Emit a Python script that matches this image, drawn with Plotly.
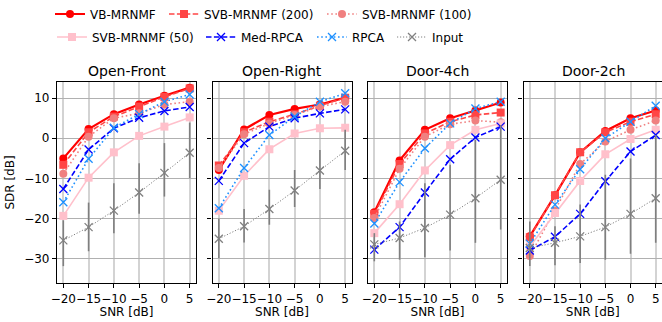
import plotly.graph_objects as go

snr = [-20, -15, -10, -5, 0, 5]
panels = ["Open-Front", "Open-Right", "Door-4ch", "Door-2ch"]
methods = ["VB-MRNMF", "SVB-MRNMF (200)", "SVB-MRNMF (100)", "SVB-MRNMF (50)",
           "Med-RPCA", "RPCA", "Input"]

# SDR values [dB] per panel, per method
vb = [[-5.0, 2.3, 6.0, 8.4, 10.6, 12.6],
      [-7.9, 2.2, 5.8, 7.3, 8.4, 10.1],
      [-18.4, -5.5, 2.1, 5.0, 6.9, 8.9],
      [-24.4, -14.2, -3.5, 1.8, 5.0, 6.9]]
svb200 = [[-6.6, 1.5, 5.4, 7.9, 10.3, 12.4],
          [-6.8, 1.5, 4.1, 6.0, 8.1, 10.1],
          [-18.8, -6.4, 1.2, 4.1, 5.8, 6.4],
          [-24.6, -14.2, -3.5, 1.5, 4.1, 6.0]]
svb100 = [[-8.8, 0.4, 5.0, 6.2, 8.4, 9.1],
          [-7.4, 1.0, 3.7, 5.8, 7.9, 9.1],
          [-19.8, -7.6, 0.4, 3.5, 4.4, 4.0],
          [-29.3, -18.0, -6.4, -0.8, 2.1, 4.4]]
svb50 = [[-19.3, -9.8, -3.5, 0.6, 2.9, 5.2],
         [-18.0, -9.3, -2.7, 1.2, 2.5, 2.6],
         [-23.6, -16.4, -8.0, -1.7, 2.1, 3.7],
         [-26.9, -18.6, -10.6, -4.0, -0.2, 2.1]]
medrpca = [[-12.6, -2.8, 2.5, 5.1, 6.8, 7.8],
           [-10.6, -1.2, 2.9, 5.0, 6.2, 7.2],
           [-27.7, -22.1, -13.5, -5.2, 0.2, 2.9],
           [-27.9, -24.5, -18.8, -10.7, -3.3, 0.8]]
rpca = [[-15.9, -5.1, 2.6, 6.0, 9.1, 10.9],
        [-17.4, -7.4, 0.8, 5.4, 9.1, 11.2],
        [-21.2, -10.9, -2.5, 3.7, 7.4, 9.1],
        [-26.2, -16.5, -7.7, 0.0, 4.1, 8.1]]
inp = [[-25.4, -22.1, -18.0, -13.5, -8.6, -3.6],
       [-25.0, -21.9, -17.6, -13.0, -8.0, -3.1],
       [-26.4, -24.8, -22.3, -19.0, -14.9, -10.3],
       [-27.3, -26.0, -24.4, -22.1, -18.8, -14.9]]
inp_hi = [[-20.4, -16.0, -11.2, -6.2, -1.2, 3.9],
          [-20.0, -17.6, -12.8, -7.9, -2.9, 2.1],
          [-23.6, -20.7, -11.2, -6.6, -0.4, 3.3],
          [-20.7, -21.9, -16.5, -9.1, -5.0, 0.8]]
inp_lo = [[-31.8, -28.1, -23.6, -18.8, -14.5, -9.9],
          [-29.8, -25.9, -21.5, -17.1, -12.6, -7.9],
          [-30.6, -30.2, -29.6, -27.9, -26.0, -22.7],
          [-31.8, -31.6, -31.0, -30.2, -28.7, -26.0]]

series = [vb, svb200, svb100, svb50, medrpca, rpca, inp]

styles = [
    dict(color="#ff0000", width=2.2, dash="solid", symbol="circle"),
    dict(color="#ff4545", width=1.6, dash="5.5px,2.4px", symbol="square"),
    dict(color="#f08080", width=1.6, dash="1.6px,2.6px", symbol="circle"),
    dict(color="#ffc0cb", width=1.6, dash="solid", symbol="square"),
    dict(color="#0000ff", width=1.6, dash="5.5px,2.4px", symbol="x-thin-open"),
    dict(color="#1e90ff", width=1.6, dash="1.6px,2.6px", symbol="x-thin-open"),
    dict(color="#808080", width=1.0, dash="1.2px,1.8px", symbol="x-thin-open"),
]
# legend text left edge (px) and row centre (px)
leg_text_x = [90, 204, 362, 92, 241, 352, 432]
leg_row_y = [14, 14, 14, 37, 37, 37, 37]
leg_names = ["legend", "legend2", "legend3", "legend4", "legend5", "legend6", "legend7"]

W, H = 662, 322
ml, mr, mt, mb = 57, 0, 82, 39
pw = W - ml - mr
step, width = 155.5, 139.0

fig = go.Figure()
font = "DejaVu Sans"

for p in range(4):
    xa = "x" if p == 0 else f"x{p+1}"
    ya = "y" if p == 0 else f"y{p+1}"
    for m, (name, st) in enumerate(zip(methods, styles)):
        kw = {}
        if m == 6:
            hi = [h - c for h, c in zip(inp_hi[p], inp[p])]
            lo = [c - l for c, l in zip(inp[p], inp_lo[p])]
            kw["error_y"] = dict(type="data", symmetric=False, array=hi, arrayminus=lo,
                                 color="#7f7f7f", thickness=1.6, width=0)
        xsym = "x" in st["symbol"]
        marker = dict(symbol=st["symbol"], size=8, color=st["color"],
                      line=dict(color=st["color"], width=1.3 if xsym else 0))
        fig.add_trace(go.Scatter(
            x=snr, y=series[m][p], name=name, mode="lines+markers",
            line=dict(color=st["color"], width=st["width"], dash=st["dash"]),
            marker=marker, xaxis=xa, yaxis=ya, legend=leg_names[m],
            legendgroup=name, showlegend=(p == 0), **kw))

layout = dict(
    width=W, height=H, margin=dict(l=ml, r=mr, t=mt, b=mb, autoexpand=False),
    plot_bgcolor="white", paper_bgcolor="white",
    font=dict(family=font, size=12, color="black"),
    showlegend=True,
)
for p in range(4):
    x0 = step * p / pw
    x1 = (step * p + width) / pw
    xk = "xaxis" if p == 0 else f"xaxis{p+1}"
    yk = "yaxis" if p == 0 else f"yaxis{p+1}"
    layout[xk] = dict(
        domain=[x0, min(x1, 1.0)], range=[-21.25, 6.25],
        tickvals=snr, ticks="outside", ticklen=4, tickcolor="black", tickangle=0,
        showline=True, linecolor="black", linewidth=1.2, mirror=True,
        showgrid=True, gridcolor="#d3d3d3", gridwidth=2, zeroline=False,
        anchor="y" if p == 0 else f"y{p+1}", automargin=False,
        title=dict(text="SNR [dB]", standoff=2, font=dict(size=12)),
        tickfont=dict(size=12),
    )
    layout[yk] = dict(
        domain=[0, 1], range=[-36, 14], tickvals=[-30, -20, -10, 0, 10],
        ticks="outside", ticklen=4, tickcolor="black",
        showline=True, linecolor="black", linewidth=1.2, mirror=True,
        showgrid=True, gridcolor="#b0b0b0", gridwidth=1, zeroline=False,
        showticklabels=(p == 0), automargin=False,
        anchor="x" if p == 0 else f"x{p+1}",
        tickfont=dict(size=12),
    )
    if p == 0:
        layout[yk]["title"] = dict(text="SDR [dB]", standoff=6, font=dict(size=12))
    else:
        layout[yk]["matches"] = "y"

for ln, tx, ty in zip(leg_names, leg_text_x, leg_row_y):
    layout[ln] = dict(orientation="h", xref="container", yref="container",
                      x=(tx - 40) / W, y=1 - ty / H, xanchor="left", yanchor="middle",
                      font=dict(size=12, family=font), bgcolor="rgba(0,0,0,0)",
                      itemwidth=30)

annotations = []
for p, t in enumerate(panels):
    cx = (step * p + width / 2) / pw
    annotations.append(dict(text=t, x=cx, y=1, xref="paper", yref="paper",
                            xanchor="center", yanchor="bottom", yshift=1,
                            showarrow=False, font=dict(size=14, family=font)))
layout["annotations"] = annotations
fig.update_layout(**layout)
fig.write_html("out.html", config={"displayModeBar": False},
               post_script="document.body.style.margin='0';")
